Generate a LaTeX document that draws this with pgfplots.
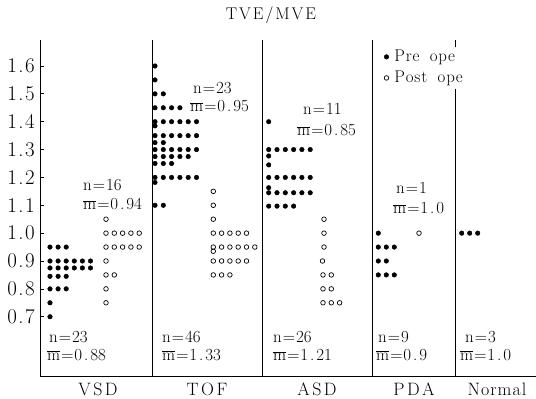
\documentclass[border=0pt]{standalone}
\usepackage{fontspec}
\usepackage{pgfplots}
\pgfplotsset{compat=1.18}
\newcommand{\fa}{\fontsize{17}{19}\selectfont}
\newcommand{\mb}{$\overline{\mathrm{m}}$}
\newcommand{\dt}{\kern2pt.\kern2pt}
\newcommand{\eq}{\kern1pt=\kern1pt}
\newcommand{\td}{\kern1.5pt.\kern1.5pt}
\newcommand{\lk}{\kern0.9pt}
\begin{document}
\begin{tikzpicture}
\useasboundingbox (0,0) rectangle (536bp,399bp);
\begin{axis}[at={(40bp,23bp)}, anchor=south west, scale only axis,
  width=496bp, height=336bp,
  xmin=40, xmax=536, ymin=0.4872, ymax=1.6933,
  axis x line*=bottom, axis y line*=left,
  axis line style={line width=0.9pt},
  xtick=\empty,
  ytick={0.7,0.8,0.9,1.0,1.1,1.2,1.3,1.4,1.5,1.6},
  yticklabels={0\td7,0\td8,0\td9,1\td0,1\td1,1\td2,1\td3,1\td4,1\td5,1\td6},
  yticklabel style={font=\fontsize{21}{23}\selectfont, inner sep=0bp, xshift=-5bp},
  tick align=inside, major tick length=3.5bp,
  tick style={black, line width=0.7pt},
  clip=false,
  legend cell align=left,
  legend style={at={(axis cs:384,1.664)}, anchor=north west, draw=none, fill=none,
    font=\fontsize{17}{19}\selectfont, inner sep=0pt, row sep=4bp,
    /tikz/every odd column/.append style={column sep=3.5bp}},
  legend image code/.code={\draw[#1] plot coordinates {(3bp,0bp)};},
  every axis plot/.append style={only marks},
]
% VSD pre
\addplot[mark=*, mark size=2.3bp, black] coordinates {
(50,0.95)(58.1,0.95)(66.2,0.95)
(50,0.9)(58.1,0.9)(66.2,0.9)(74.3,0.9)(82.4,0.9)(90.5,0.9)
(50,0.875)(58.1,0.875)(66.2,0.875)(74.3,0.875)(82.4,0.875)(90.5,0.875)
(50,0.845)(58.1,0.845)(66.2,0.845)
(50,0.8)(58.1,0.8)(66.2,0.8)
(50,0.75)(50,0.7)};
\addlegendentry{P\lk r\lk e\ \ o\lk p\lk e}
% VSD post
\addplot[mark=o, mark size=2.3bp, black, mark options={line width=0.7pt}] coordinates {
(106,1.05)
(106,1.0)(114.3,1.0)(122.6,1.0)(130.9,1.0)(139.2,1.0)
(106,0.95)(114.3,0.95)(122.6,0.95)(130.9,0.95)(139.2,0.95)
(106,0.9)
(106,0.85)(114.3,0.85)
(106,0.8)
(106,0.75)};
\addlegendentry{P\lk o\lk s\lk t\ \ o\lk p\lk e}
% TOF pre
\addplot[forget plot, mark=*, mark size=2.3bp, black] coordinates {
(155,1.6)(155,1.55)(155,1.5)(163.3,1.5)
(155,1.45)(163.3,1.45)(171.6,1.45)(179.9,1.45)
(155,1.4)(163.3,1.4)(171.6,1.4)(179.9,1.4)(188.2,1.4)(196.5,1.4)
(155,1.385)
(155,1.35)(163.3,1.35)(171.6,1.35)(179.9,1.35)(188.2,1.35)(196.5,1.35)
(155,1.325)(163.3,1.325)
(155,1.3)(163.3,1.3)(171.6,1.3)(179.9,1.3)(188.2,1.3)(196.5,1.3)
(155,1.275)(163.3,1.275)(171.6,1.275)(179.9,1.275)(188.2,1.275)
(155,1.25)(163.3,1.25)(171.6,1.25)
(155,1.2)(163.3,1.2)(171.6,1.2)(179.9,1.2)(188.2,1.2)(196.5,1.2)
(155,1.182)
(155,1.1)(163.3,1.1)};
% TOF post
\addplot[forget plot, mark=o, mark size=2.3bp, black, mark options={line width=0.7pt}] coordinates {
(213.3,1.15)(213.3,1.1)(213.3,1.05)
(213.3,1.0)(221.6,1.0)(229.9,1.0)(238.2,1.0)(246.5,1.0)
(213.3,0.95)(221.6,0.95)(229.9,0.95)(238.2,0.95)(246.5,0.95)(254.8,0.95)
(213.3,0.935)
(213.3,0.9)(221.6,0.9)(229.9,0.9)(238.2,0.9)(246.5,0.9)
(213.3,0.85)(221.6,0.85)(229.9,0.85)};
% ASD pre
\addplot[forget plot, mark=*, mark size=2.3bp, black] coordinates {
(268.7,1.4)
(268.7,1.3)(277,1.3)(285.3,1.3)(293.6,1.3)(301.9,1.3)(310.2,1.3)
(268.7,1.277)(268.7,1.245)
(268.7,1.2)(277,1.2)(285.3,1.2)(293.6,1.2)(301.9,1.2)(310.2,1.2)
(268.7,1.163)
(268.7,1.145)(277,1.145)(285.3,1.145)(293.6,1.145)(301.9,1.145)(310.2,1.145)
(268.7,1.097)(277,1.097)(285.3,1.097)(293.6,1.097)};
% ASD post
\addplot[forget plot, mark=o, mark size=2.3bp, black, mark options={line width=0.7pt}] coordinates {
(324,1.05)(324,1.0)(324,0.95)(322.5,0.9)
(323,0.85)(331.3,0.85)
(323,0.8)(331.3,0.8)
(323,0.75)(331.3,0.75)(339.6,0.75)};
% PDA pre
\addplot[forget plot, mark=*, mark size=2.3bp, black] coordinates {
(378.3,1.0)
(378.3,0.95)(386.3,0.95)(394.3,0.95)
(378.3,0.9)(386.3,0.9)
(378.3,0.85)(386.3,0.85)(394.3,0.85)};
% PDA post
\addplot[forget plot, mark=o, mark size=2.3bp, black, mark options={line width=0.7pt}] coordinates {
(419,1.0)};
% Normal
\addplot[forget plot, mark=*, mark size=2.3bp, black] coordinates {
(461.7,1.0)(469.7,1.0)(477.7,1.0)};
% separators
\draw[line width=0.9pt] (axis cs:152,0.4872) -- (axis cs:152,1.6933);
\draw[line width=0.9pt] (axis cs:262,0.4872) -- (axis cs:262,1.6933);
\draw[line width=0.9pt] (axis cs:372,0.4872) -- (axis cs:372,1.6933);
\draw[line width=0.9pt] (axis cs:455.5,0.4872) -- (axis cs:455.5,1.5186);
\draw[line width=0.9pt] (axis cs:455.5,1.667) -- (axis cs:455.5,1.6933);
% title
\node[font=\fontsize{17}{19}\selectfont] at (axis cs:271,1.783) {T\kern2pt V\kern2pt E\kern2pt/\kern2pt M\kern2pt V\kern2pt E};
% category labels
\begin{scope}[every node/.style={font=\fontsize{18}{20}\selectfont, anchor=base}]
\node at (axis cs:98,0.4172) {V\kern2.5pt S\kern2.5pt D};
\node at (axis cs:207,0.4172) {T\kern2.5pt O\kern2.5pt F};
\node at (axis cs:317,0.4172) {A\kern2.5pt S\kern2.5pt D};
\node at (axis cs:414,0.4172) {P\kern2.5pt D\kern2.5pt A};
\node at (axis cs:497,0.4172) {N\kern1pt o\kern1pt r\kern1pt m\kern1pt a\kern1pt l};
\end{scope}
% annotations
\begin{scope}[every node/.style={font=\fa, anchor=west, inner sep=0pt}]
\node at (axis cs:83,1.173) {n\eq16};
\node at (axis cs:83,1.1045) {\mb\eq0\dt94};
\node at (axis cs:49,0.627) {n\eq23};
\node at (axis cs:47,0.5625) {\mb\eq0\dt88};
\node at (axis cs:193,1.521) {n\eq23};
\node at (axis cs:190,1.456) {\mb\eq0\dt95};
\node at (axis cs:162,0.627) {n\eq46};
\node at (axis cs:162,0.5625) {\mb\eq1\dt33};
\node at (axis cs:303,1.4455) {n\eq11};
\node at (axis cs:297,1.370) {\mb\eq0\dt85};
\node at (axis cs:273,0.627) {n\eq26};
\node at (axis cs:273,0.5625) {\mb\eq1\dt21};
\node at (axis cs:396,1.162) {n\eq1};
\node at (axis cs:393,1.090) {\mb\eq1\dt0};
\node at (axis cs:378,0.627) {n\eq9};
\node at (axis cs:376,0.5625) {\mb\eq0\dt9};
\node at (axis cs:465,0.627) {n\eq3};
\node at (axis cs:460,0.5625) {\mb\eq1\dt0};
\end{scope}
\end{axis}
\end{tikzpicture}
\end{document}
